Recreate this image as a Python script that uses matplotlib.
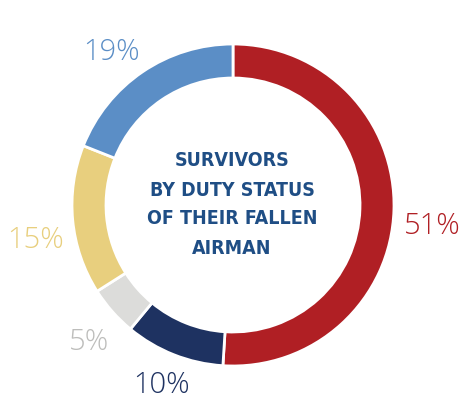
import matplotlib
matplotlib.use("Agg")
import matplotlib.pyplot as plt

# Slice data, clockwise from 12 o'clock
shares = [51, 10, 5, 15, 19]
labels = ["51%", "10%", "5%", "15%", "19%"]
slice_colors = ["#B01F24", "#1E3261", "#DCDCDA", "#E8CF7E", "#5B8EC6"]
label_colors = ["#B01F24", "#1E3261", "#BDBDBB", "#E8CF7E", "#5B8EC6"]
label_pos = [(432, 226), (162, 385), (89, 342), (36, 240), (112, 52)]
title_lines = ["SURVIVORS", "BY DUTY STATUS", "OF THEIR FALLEN", "AIRMAN"]

W, H = 463, 400
fig = plt.figure(figsize=(W / 100, H / 100), dpi=100)
ax = fig.add_axes([0, 0, 1, 1])
ax.axis("off")

cx, cy, R = 233, 205, 161
ax.pie(shares, colors=slice_colors, startangle=90, counterclock=False,
       center=(cx, -cy), radius=R,
       wedgeprops=dict(width=34, edgecolor="white", linewidth=2))
ax.set_ylim(-H, 0)
ax.set_xlim(0, W)
ax.set_aspect("equal")

for lab, col, (x, y) in zip(labels, label_colors, label_pos):
    ax.text(x, -y, lab, color=col, fontsize=21, family="Open Sans",
            fontweight="light", ha="center", va="center")

# centre caption
line_y = [160, 190, 219, 248]
for line, y in zip(title_lines, line_y):
    ax.text(232, -y, line, color="#1F4E85", fontsize=14,
            family="DejaVu Sans", fontstretch="condensed",
            fontweight="bold", ha="center", va="center")

fig.savefig("out.png", dpi=100)
